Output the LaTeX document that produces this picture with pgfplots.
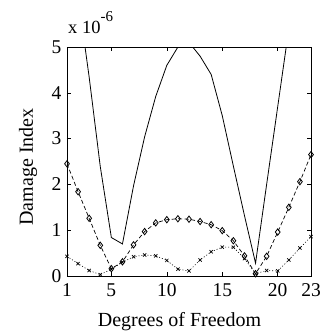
\documentclass[border=0pt]{standalone}
\usepackage{fontspec}
\setmainfont{Liberation Serif}
\usepackage{pgfplots}
\pgfplotsset{compat=1.18}
\begin{document}
\begin{tikzpicture}
\path[use as bounding box] (-67pt,-58pt) rectangle (255pt,276pt);
\begin{axis}[
  at={(0pt,0pt)}, anchor=south west,
  scale only axis, width=244pt, height=229pt,
  xmin=1, xmax=23, ymin=0, ymax=5,
  xtick={1,5,10,15,20,23}, ytick={0,1,2,3,4,5},
  tick align=inside, major tick length=4pt,
  tick style={black, line width=0.6pt},
  axis line style={line width=0.8pt},
  /pgf/number format/assume math mode=true,
  ticklabel style={font=\fontsize{19.5}{19.5}\selectfont},
  yticklabel style={xshift=-2pt},
  xticklabel style={yshift=-4pt},
  xlabel={Degrees of Freedom}, ylabel={Damage Index},
  label style={font=\fontsize{20}{20}\selectfont},
  xlabel style={at={([yshift=-50pt]axis description cs:0.461,0)}, anchor=base},
  ylabel style={at={([xshift=-34pt]axis description cs:0,0.476)}, anchor=base},
  scaled y ticks=false,
]
\addplot[black, line width=0.8pt] coordinates {
(1,8.0) (2,6.1) (3,4.34) (4,2.39) (5,0.84) (6,0.70) (7,1.97) (8,3.04) (9,3.92) (10,4.6) (11,5.0) (12,5.1) (13,4.8) (14,4.4) (15,3.5) (16,2.4) (17,1.32) (18,0.28) (19,2.0) (20,3.7) (21,5.4) (22,7.1) (23,8.8)};
\addplot[black, line width=0.7pt, dash pattern=on 4pt off 2.5pt, mark=diamond, mark size=3.2pt, mark options={solid, line width=0.8pt}] coordinates {
(1,2.45) (2,1.84) (3,1.26) (4,0.67) (5,0.16) (6,0.31) (7,0.68) (8,0.97) (9,1.16) (10,1.23) (11,1.25) (12,1.24) (13,1.19) (14,1.12) (15,0.99) (16,0.77) (17,0.44) (18,0.05) (19,0.43) (20,0.96) (21,1.50) (22,2.06) (23,2.65)};
\addplot[black, line width=0.6pt, dash pattern=on 1pt off 2pt, mark=x, mark size=2.3pt, mark options={solid, line width=0.7pt}] coordinates {
(1,0.43) (2,0.27) (3,0.12) (4,0.03) (5,0.15) (6,0.30) (7,0.42) (8,0.46) (9,0.44) (10,0.34) (11,0.15) (12,0.11) (13,0.35) (14,0.53) (15,0.63) (16,0.63) (17,0.38) (18,0.05) (19,0.12) (20,0.11) (21,0.35) (22,0.61) (23,0.86)};
\end{axis}
\node[anchor=base west, inner sep=0pt] at (1pt,242pt) {\fontsize{18.5}{18.5}\selectfont x 10\raisebox{12pt}{\fontsize{15}{15}\selectfont -6}};
\end{tikzpicture}
\end{document}
